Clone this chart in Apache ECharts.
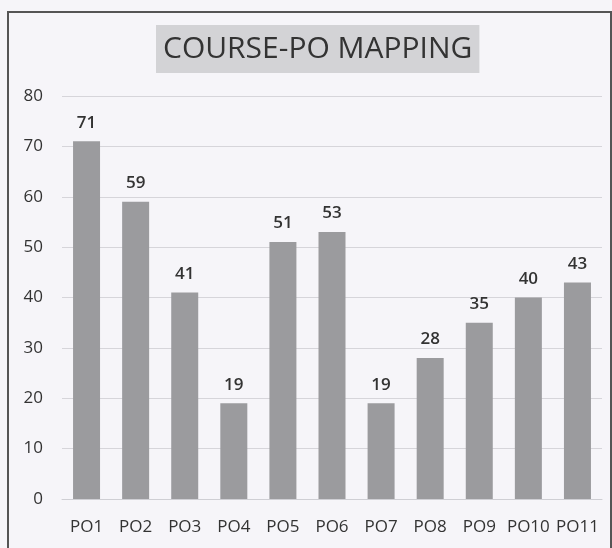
<!DOCTYPE html>
<html>
<head>
<meta charset="utf-8">
<script src="https://cdn.jsdelivr.net/npm/echarts@6/dist/echarts.min.js"></script>
<style>
  html, body { margin: 0; padding: 0; background: #f6f5f9; }
  #chart { width: 612px; height: 548px; }
</style>
</head>
<body>
<div id="chart"></div>
<script>
  // PO categories and their counts
  const categories = ['PO1', 'PO2', 'PO3', 'PO4', 'PO5', 'PO6', 'PO7', 'PO8', 'PO9', 'PO10', 'PO11'];
  const values = [71, 59, 41, 19, 51, 53, 19, 28, 35, 40, 43];
  const yTicks = [0, 10, 20, 30, 40, 50, 60, 70, 80];

  const chart = echarts.init(document.getElementById('chart'));
  const font = '"Open Sans", "Noto Sans", sans-serif';

  chart.setOption({
    backgroundColor: '#f6f5f9',
    textStyle: { fontFamily: font },
    // outer frame of the scanned chart
    graphic: [{
      type: 'rect',
      shape: { x: 8, y: 12, width: 603, height: 560 },
      style: { fill: null, stroke: '#555', lineWidth: 2 },
      silent: true
    }],
    title: {
      text: 'COURSE-PO MAPPING',
      left: 156,
      top: 25,
      backgroundColor: '#d3d3d6',
      padding: [7, 7, 7, 7],
      textStyle: {
        fontFamily: font,
        fontSize: 30,
        fontWeight: 'normal',
        color: '#333',
        lineHeight: 34
      }
    },
    grid: {
      left: 62,
      right: 10,
      top: 96,
      bottom: 49
    },
    xAxis: {
      type: 'category',
      data: categories,
      axisLine: { lineStyle: { color: '#cfcfd4' } },
      axisTick: { show: false },
      axisLabel: {
        margin: 20,
        fontSize: 17,
        color: '#333',
        fontFamily: font,
        interval: 0
      }
    },
    yAxis: {
      type: 'value',
      min: yTicks[0],
      max: yTicks[yTicks.length - 1],
      interval: 10,
      axisLine: { show: false },
      axisTick: { show: false },
      axisLabel: {
        margin: 19,
        fontSize: 17,
        color: '#333',
        fontFamily: font
      },
      splitLine: { lineStyle: { color: '#d6d5da' } }
    },
    series: [{
      type: 'bar',
      data: values,
      barWidth: '55%',
      itemStyle: { color: '#9b9b9e' },
      label: {
        show: true,
        position: 'top',
        distance: 10,
        fontSize: 17,
        fontWeight: 600,
        color: '#333',
        fontFamily: font
      }
    }]
  });
</script>
</body>
</html>
